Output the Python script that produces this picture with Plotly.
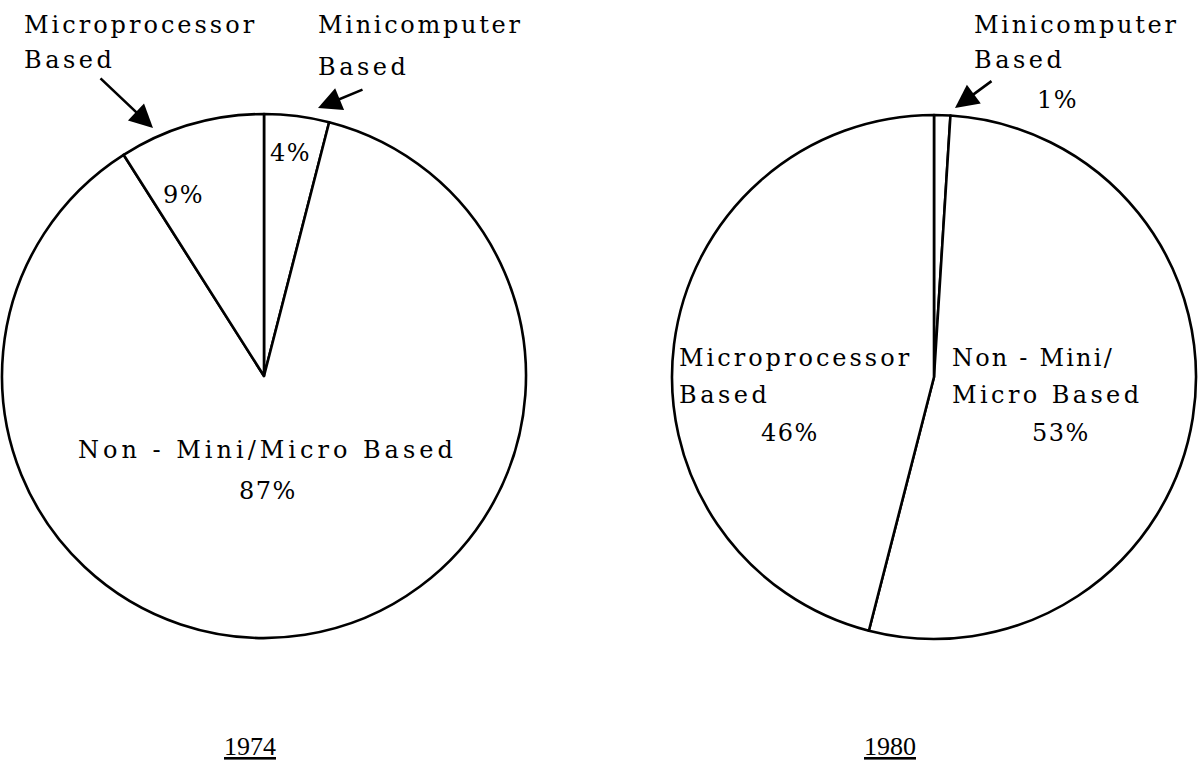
import plotly.graph_objects as go

# Market share by controller type
segments_1974 = ["Minicomputer Based", "Non - Mini/Micro Based", "Microprocessor Based"]
shares_1974 = [4, 87, 9]

segments_1980 = ["Minicomputer Based", "Non - Mini/Micro Based", "Microprocessor Based"]
shares_1980 = [1, 53, 46]

years = ["1974", "1980"]

W, H = 1202, 761
FONT = "DejaVu Serif"


def px(x, y):
    """Pixel position -> paper coordinates."""
    return x / W, 1 - y / H


def spaced(s, sp=3):
    return f'<span style="letter-spacing:{sp}px">{s}</span>'


fig = go.Figure()

pie_style = dict(
    sort=False,
    direction="clockwise",
    rotation=0,
    textinfo="none",
    hoverinfo="label+percent",
    marker=dict(colors=["white"] * 3, line=dict(color="black", width=2.6)),
    showlegend=False,
)

x0, y1 = px(1, 114)
x1, y0 = px(527, 638)
fig.add_trace(go.Pie(labels=segments_1974, values=shares_1974,
                     domain=dict(x=[x0, x1], y=[y0, y1]), name=years[0], **pie_style))

x0, y1 = px(672, 115)
x1, y0 = px(1196, 639)
fig.add_trace(go.Pie(labels=segments_1980, values=shares_1980,
                     domain=dict(x=[x0, x1], y=[y0, y1]), name=years[1], **pie_style))

annotations = []


def text(x, y, s, anchor="left", size=24, family=FONT):
    ax, ay = px(x, y)
    annotations.append(dict(
        x=ax, y=ay, xref="paper", yref="paper", text=s, showarrow=False,
        xanchor=anchor, yanchor="middle",
        font=dict(family=family, size=size, color="black"),
    ))


def arrow(xs, ys, xe, ye):
    ax, ay = px(xe, ye)
    annotations.append(dict(
        x=ax, y=ay, xref="paper", yref="paper", ax=xs - xe, ay=ys - ye,
        axref="pixel", ayref="pixel", text="", showarrow=True,
        arrowhead=2, arrowsize=1.8, arrowwidth=2.6, arrowcolor="black",
    ))


def pct(v):
    return f"{v}%"


mini, non, micro = segments_1974
# 1974 pie labels
text(22, 25, spaced("Microprocessor", 3))
text(22, 60, spaced("Based", 3.5))
arrow(99, 77, 153, 128)
text(316, 25, spaced("Minicomputer", 2.7))
text(316, 67, spaced("Based", 3.5))
arrow(364, 89, 318, 108)
text(290, 153, spaced(pct(shares_1974[0]), 1.5), anchor="center")
text(183, 195, spaced(pct(shares_1974[2]), 1.5), anchor="center")
text(267, 450, spaced(non, 4), anchor="center")
text(268, 491, spaced(pct(shares_1974[1]), 1.5), anchor="center")

# 1980 pie labels
text(972, 25, spaced("Minicomputer", 2.7))
text(972, 60, spaced("Based", 3.5))
arrow(993, 80, 955, 108)
text(1057, 100, spaced(pct(shares_1980[0]), 1.5), anchor="center")
text(677, 358, spaced("Microprocessor", 3))
text(677, 395, spaced("Based", 3.5))
text(790, 433, spaced(pct(shares_1980[2]), 1.5), anchor="center")
text(950, 358, spaced("Non - Mini/", 2.2))
text(950, 395, spaced("Micro Based", 3.4))
text(1061, 433, spaced(pct(shares_1980[1]), 1.5), anchor="center")

# year captions
text(250, 746, f"<u>{years[0]}</u>", anchor="center", size=26, family="Liberation Serif")
text(890, 746, f"<u>{years[1]}</u>", anchor="center", size=26, family="Liberation Serif")

fig.update_layout(
    width=W, height=H,
    margin=dict(l=0, r=0, t=0, b=0),
    paper_bgcolor="white", plot_bgcolor="white",
    annotations=annotations,
)

fig.write_html("out.html")
